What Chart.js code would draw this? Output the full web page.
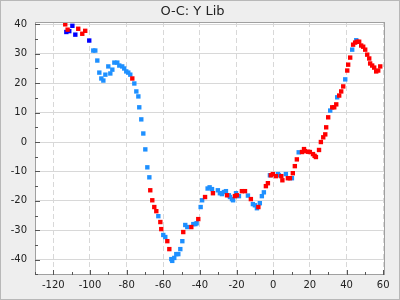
<!DOCTYPE html>
<html lang="en">
  <head>
    <meta charset="UTF-8" />
    <title>O-C: Y Lib</title>
    <style>
      html, body { margin: 0; padding: 0; background: #eeeeee; }
      .chart-container { width: 400px; height: 300px; }
    </style>
    <script src="https://cdn.jsdelivr.net/npm/chart.js"></script>
  </head>
  <body>
    <div class="chart-container">
      <canvas id="ocChart" width="400" height="300"></canvas>
    </div>
    <script>
      var xTicks = [-120, -100, -80, -60, -40, -20, 0, 20, 40, 60];
      var yTicks = [-40, -30, -20, -10, 0, 10, 20, 30, 40];
      var xMinorTicks = [-130, -110, -90, -70, -50, -30, -10, 10, 30, 50];
      var yMinorTicks = [-45, -35, -25, -15, -5, 5, 15, 25, 35];

      var darkBlue = [
        [-112.9, 37.4], [-111.3, 37.7], [-109.6, 39.5], [-108, 36.5], [-100.4, 34.5],
      ];

      var lightBlue = [
        [-98.2, 31.1], [-97.1, 31.1], [-96, 27.7], [-94.9, 23.6], [-93.8, 21.6],
        [-92.7, 20.9], [-91.6, 22.9], [-90, 25.7], [-88.9, 23.3], [-87.8, 24.6],
        [-86.7, 27], [-85.1, 27], [-84, 26], [-82.4, 25.7], [-81.3, 25],
        [-80.2, 24], [-79.1, 23.6], [-78, 22.9], [-75.8, 19.9], [-74.7, 17.2],
        [-73.6, 15.5], [-73.1, 11.8], [-72, 7.7], [-70.9, 2.9], [-69.8, -2.5],
        [-68.7, -8.6], [-67.6, -12], [-62.7, -25.2], [-60, -31.6], [-58.9, -32.3],
        [-55.6, -39.8], [-55.1, -40.4], [-54, -39.4], [-52.9, -38.1], [-51.8, -38.1],
        [-50.7, -36.4], [-49.6, -33.7], [-48, -28.2], [-46.9, -28.9], [-43.6, -27.9],
        [-42.5, -27.9], [-41.8, -27.6], [-39.6, -22.1], [-38.8, -19.8], [-35.8, -15.8],
        [-34.7, -15.4], [-33.4, -16], [-30.2, -16.4], [-29.1, -17.4], [-28, -17.7],
        [-26.9, -17], [-25.8, -16.7], [-24.2, -18.1], [-23.6, -18.7], [-22.5, -19.4],
        [-21.9, -19.8], [-20.3, -17.4], [-18.7, -18.4], [-13.8, -18.2], [-11.1, -21.1],
        [-10, -21.5], [-8.9, -22.5], [-7.3, -20.8], [-6.2, -18.4], [-5.1, -17.1],
        [-1.8, -11.3], [2.6, -10.9], [3.1, -11.3], [6.9, -10.9], [10.2, -12.3],
        [13.9, -3.5], [31.1, 10.7], [34.9, 15.2], [39.3, 21.3], [43.1, 31.4],
        [45.3, 34.6],
      ];

      var red = [
        [-113.5, 40], [-112.2, 38.2], [-106.4, 38.5], [-104.2, 36.8], [-102.6, 37.8],
        [-76.9, 21.6], [-67.1, -16.4], [-66, -19.8], [-64.9, -22.1], [-63.8, -23.5],
        [-61.6, -27.2], [-61.1, -29.6], [-57.8, -33.7], [-56.7, -36.4], [-49.1, -30.6],
        [-44.7, -28.9], [-40.9, -26.2], [-37.2, -18.7], [-32.9, -17.4], [-25.2, -18.1],
        [-20.9, -18.4], [-19.8, -18.1], [-17.1, -16.7], [-15.4, -16.7], [-12.2, -19.4],
        [-8.1, -22.1], [-4, -15], [-2.9, -14], [-1.3, -11.3], [-0.2, -10.9],
        [1.5, -11.6], [4.4, -11.6], [5, -13], [8, -12.3], [9.1, -12.3],
        [10.7, -10.6], [11.8, -8.2], [12.9, -5.9], [15.7, -3.4], [16.8, -2.4],
        [17.3, -3.1], [19, -3.3], [20, -3.4], [21.7, -4.1], [22.6, -4.7],
        [23.3, -5.1], [25, -2.7], [26, 0], [27.3, 1.6], [28.4, 2.6],
        [28.9, 5], [30, 8.4], [32.2, 11.8], [33.3, 11.8], [34.4, 12.8],
        [36, 15.8], [37.1, 17.2], [38.2, 18.9], [40.4, 24.3], [40.9, 26.3],
        [42, 28.7], [43.6, 33.1], [44.7, 33.8], [45.8, 34.1], [46.9, 34.1],
        [48, 32.8], [49.1, 32.4], [50.2, 31.4], [51.3, 29.7], [52.4, 28.4],
        [52.9, 26.7], [54, 26], [55.1, 25.3], [56.2, 24], [57.3, 24.3],
        [58.4, 25.7],
      ];

      function toPoints(arr) {
        return arr.map(function (p) { return { x: p[0], y: p[1] }; });
      }

      // background, plot frame and inside ticks
      var framePlugin = {
        id: "frame",
        beforeDraw: function (chart) {
          var ctx = chart.ctx;
          var a = chart.chartArea;
          ctx.save();
          ctx.fillStyle = "#eeeeee";
          ctx.fillRect(0, 0, chart.width, chart.height);
          ctx.strokeStyle = "#b8b8b8";
          ctx.lineWidth = 1;
          ctx.strokeRect(0.5, 0.5, chart.width - 1, chart.height - 1);
          ctx.fillStyle = "#ffffff";
          ctx.fillRect(a.left, a.top, a.right - a.left, a.bottom - a.top);
          ctx.restore();
        },
        afterDatasetsDraw: function (chart) {
          var ctx = chart.ctx;
          var a = chart.chartArea;
          var xs = chart.scales.x;
          var ys = chart.scales.y;
          ctx.save();
          ctx.strokeStyle = "#a0a0a0";
          ctx.lineWidth = 1;
          ctx.strokeRect(Math.round(a.left) + 0.5, Math.round(a.top) + 0.5,
            Math.round(a.right - a.left) - 1, Math.round(a.bottom - a.top) - 1);
          ctx.strokeStyle = "#555555";
          ctx.beginPath();
          function xTick(v, len) {
            var px = Math.round(xs.getPixelForValue(v)) + 0.5;
            if (px < a.left || px > a.right) return;
            ctx.moveTo(px, a.bottom);
            ctx.lineTo(px, a.bottom - len);
          }
          function yTick(v, len) {
            var py = Math.round(ys.getPixelForValue(v)) + 0.5;
            if (py < a.top || py > a.bottom) return;
            ctx.moveTo(a.left, py);
            ctx.lineTo(a.left + len, py);
          }
          xTicks.forEach(function (v) { xTick(v, 5); });
          xMinorTicks.forEach(function (v) { xTick(v, 3); });
          yTicks.forEach(function (v) { yTick(v, 5); });
          yMinorTicks.forEach(function (v) { yTick(v, 3); });
          ctx.stroke();
          ctx.restore();
        },
      };

      var ctx = document.getElementById("ocChart").getContext("2d");
      var ocChart = new Chart(ctx, {
        type: "scatter",
        data: {
          datasets: [
            {
              label: "red",
              data: toPoints(red),
              backgroundColor: "#ff0000",
              pointStyle: "rect",
              pointRadius: 3.1,
              borderWidth: 0,
            },
            {
              label: "dark",
              data: toPoints(darkBlue),
              backgroundColor: "#0000ff",
              pointStyle: "rect",
              pointRadius: 3.1,
              borderWidth: 0,
            },
            {
              label: "light",
              data: toPoints(lightBlue),
              backgroundColor: "#1e90ff",
              pointStyle: "rect",
              pointRadius: 3.1,
              borderWidth: 0,
            },
          ],
        },
        options: {
          responsive: false,
          animation: false,
          events: [],
          layout: { padding: { left: 0, right: 15, top: 0, bottom: 0 } },
          plugins: {
            legend: { display: false },
            tooltip: { enabled: false },
            title: {
              display: true,
              text: "O-C: Y Lib",
              color: "#222222",
              font: { family: "DejaVu Sans", size: 13, weight: "normal", lineHeight: 1.2 },
              padding: { top: 4, bottom: 2.4 },
            },
          },
          scales: {
            x: {
              type: "linear",
              min: -130,
              max: 61,
              afterFit: function (scale) { scale.height = 25; },
              afterBuildTicks: function (scale) {
                scale.ticks = xTicks.map(function (v) { return { value: v }; });
              },
              grid: { color: "#d8d8d8", drawTicks: false },
              border: { display: false, dash: [5, 3] },
              ticks: {
                color: "#222222",
                padding: 4,
                maxRotation: 0,
                autoSkip: false,
                font: { family: "DejaVu Sans", size: 10 },
              },
            },
            y: {
              type: "linear",
              min: -45.2,
              max: 40.8,
              afterFit: function (scale) { scale.width = 35; },
              afterBuildTicks: function (scale) {
                scale.ticks = yTicks.map(function (v) { return { value: v }; });
              },
              grid: { color: "#d8d8d8", drawTicks: false },
              border: { display: false },
              ticks: {
                color: "#222222",
                padding: 8,
                autoSkip: false,
                font: { family: "DejaVu Sans", size: 10 },
              },
            },
          },
        },
        plugins: [framePlugin],
      });
    </script>
  </body>
</html>
